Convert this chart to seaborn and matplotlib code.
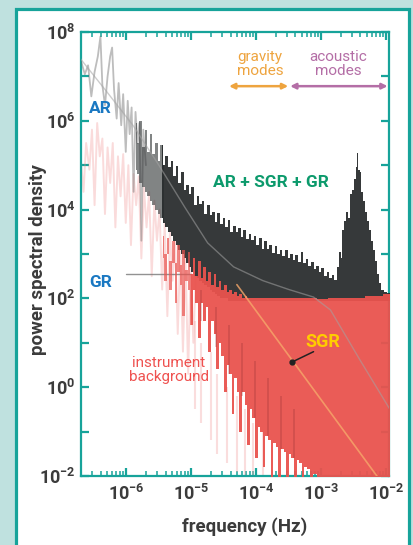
import numpy as np
import pandas as pd
import matplotlib
matplotlib.use("Agg")
import matplotlib.pyplot as plt
from matplotlib.patches import Rectangle
from matplotlib.ticker import FixedLocator, FuncFormatter, NullFormatter
import seaborn as sns

# ---------------------------------------------------------------------------
# Spectrum values, stored as log10(frequency / Hz) and log10(power)
# ---------------------------------------------------------------------------

# Low-frequency part of the combined (AR + SGR + GR) spectrum, drawn as a line
total_low_logf = [-6.70, -6.64, -6.59, -6.54, -6.49, -6.44, -6.40, -6.37, -6.33, -6.29,
                  -6.25, -6.22, -6.19, -6.15, -6.12, -6.08, -6.05, -6.01, -5.98, -5.95,
                  -5.92, -5.89, -5.86, -5.83, -5.80, -5.77, -5.74, -5.70]
total_low_logp = [7.35, 7.05, 7.25, 6.55, 7.10, 7.45, 7.90, 6.80, 6.35, 7.00,
                  7.45, 7.65, 6.70, 6.05, 6.85, 5.90, 6.60, 5.30, 6.45, 5.70,
                  6.30, 4.40, 6.20, 5.50, 5.95, 3.30, 5.80, 5.00]

# Dense combined spectrum: frequency grid, upper edge, lower edge
total_logf = [-5.86, -5.82, -5.78, -5.74, -5.70, -5.66, -5.62, -5.58, -5.54,
              -5.50, -5.46, -5.42, -5.38, -5.34, -5.30, -5.26, -5.22, -5.18, -5.14,
              -5.10, -5.06, -5.02, -4.98, -4.94, -4.90, -4.86, -4.82, -4.78, -4.74,
              -4.70, -4.66, -4.62, -4.58, -4.54, -4.50, -4.46, -4.42, -4.38, -4.34,
              -4.30, -4.26, -4.22, -4.18, -4.14, -4.10, -4.06, -4.02, -3.98, -3.94,
              -3.90, -3.86, -3.82, -3.78, -3.74, -3.70, -3.66, -3.62, -3.58, -3.54,
              -3.50, -3.46, -3.42, -3.38, -3.34, -3.30, -3.26, -3.22, -3.18, -3.14,
              -3.10, -3.06, -3.02, -2.98, -2.94, -2.90, -2.86, -2.82, -2.78, -2.75,
              -2.72, -2.69, -2.66, -2.63, -2.60, -2.57, -2.54, -2.51, -2.48, -2.46,
              -2.44, -2.42, -2.40, -2.37, -2.34, -2.31, -2.28, -2.25, -2.22, -2.19,
              -2.16, -2.13, -2.10, -2.06, -2.02, -1.95]
total_hi_logp = [5.95, 5.50, 6.00, 5.40, 5.80, 5.30, 5.70, 5.25, 5.50,
                 5.10, 5.45, 5.00, 5.20, 4.95, 5.10, 4.75, 4.98, 4.60, 4.85,
                 4.45, 4.55, 4.35, 4.50, 4.10, 4.30, 4.12, 4.20, 3.90, 4.10,
                 3.88, 3.95, 3.72, 3.92, 3.68, 3.80, 3.60, 3.76, 3.50, 3.62,
                 3.50, 3.58, 3.38, 3.55, 3.34, 3.45, 3.32, 3.40, 3.20, 3.36,
                 3.12, 3.30, 3.12, 3.20, 3.02, 3.18, 3.00, 3.08, 2.95, 3.10,
                 2.90, 3.00, 2.86, 2.98, 2.82, 3.05, 2.80, 2.88, 2.72, 2.82,
                 2.66, 2.74, 2.60, 2.68, 2.50, 2.60, 2.45, 2.52, 2.42, 2.70,
                 3.05, 2.90, 3.55, 3.75, 3.95, 3.80, 4.35, 4.45, 4.70, 4.95,
                 5.27, 4.90, 4.85, 4.40, 4.20, 3.95, 3.75, 3.55, 3.30, 3.10,
                 2.85, 2.55, 2.35, 2.20, 2.15, 2.12]
total_lo_logp = [4.90, 4.80, 4.60, 4.50, 4.40, 4.30, 4.20, 4.10, 4.00,
                 3.90, 3.80, 3.70, 3.60, 3.50, 3.40, 3.30, 3.20, 3.10, 3.00,
                 2.90, 2.80, 2.70, 2.60, 2.50, 2.45, 2.40, 2.35, 2.30, 2.25,
                 2.20, 2.15, 2.10, 2.05, 2.00, 2.00, 2.00, 1.95, 1.95, 1.95,
                 1.95, 1.95, 1.95, 1.95, 1.95, 1.95, 1.95, 1.95, 1.95, 1.95,
                 1.95, 1.95, 1.95, 1.95, 1.95, 1.95, 1.95, 1.95, 1.95, 1.95,
                 1.95, 1.95, 1.95, 1.95, 1.95, 1.95, 1.95, 1.95, 1.95, 1.95,
                 1.95, 1.95, 1.95, 1.95, 1.95, 1.95, 1.95, 1.95, 1.95, 1.95,
                 1.95, 1.95, 1.95, 1.95, 1.95, 1.95, 1.95, 1.95, 1.95, 1.95,
                 1.95, 1.95, 1.95, 1.95, 1.95, 1.95, 1.95, 1.95, 1.95, 1.95,
                 1.95, 1.95, 1.95, 1.95, 1.95, 1.95]

# Instrument background: faint low-frequency trace
instr_low_logf = [-6.70, -6.66, -6.62, -6.57, -6.53, -6.49, -6.45, -6.41, -6.37, -6.33,
                  -6.29, -6.25, -6.21, -6.17, -6.13, -6.09, -6.05, -6.01, -5.97, -5.93,
                  -5.89, -5.85, -5.81, -5.77, -5.73, -5.69, -5.65, -5.61, -5.57, -5.53,
                  -5.49, -5.45, -5.41, -5.37, -5.33, -5.29, -5.25, -5.21, -5.17, -5.13,
                  -5.09, -5.05, -5.01, -4.97, -4.93]
instr_low_logp = [5.10, 4.40, 5.50, 4.90, 5.80, 4.10, 5.95, 5.20, 5.60, 3.90,
                  5.40, 4.60, 5.50, 3.60, 5.20, 4.30, 5.25, 3.70, 5.00, 3.20,
                  4.80, 4.10, 4.75, 2.90, 4.50, 3.60, 4.40, 2.50, 4.20, 3.30,
                  4.00, 2.20, 3.70, 1.60, 3.50, 2.40, 3.30, 1.20, 3.10, 0.80,
                  2.90, 0.30, 2.70, 1.00, 2.60]

# Instrument background: dense part, frequency grid, upper and lower edges
instr_logf = [-5.44, -5.40, -5.36, -5.32, -5.28, -5.24, -5.20, -5.16, -5.12, -5.08,
              -5.04, -5.00, -4.96, -4.92, -4.88, -4.84, -4.80, -4.76, -4.72, -4.68,
              -4.64, -4.60, -4.56, -4.52, -4.48, -4.44, -4.40, -4.36, -4.32, -4.28,
              -4.24, -4.20, -4.16, -4.12, -4.08, -4.04, -4.00, -3.96, -3.92, -3.88,
              -3.84, -3.80, -3.76, -3.72, -3.68, -3.64, -3.60, -3.56, -3.52, -3.48,
              -3.44, -3.40, -3.36, -3.32, -3.28, -3.24, -3.20, -3.16, -3.10, -3.04,
              -2.80, -2.50, -2.20, -1.95]
instr_hi_logp = [3.40, 3.00, 3.35, 2.85, 3.30, 2.80, 3.20, 2.75, 3.10, 2.65,
                 3.05, 2.55, 2.90, 2.50, 2.85, 2.45, 2.70, 2.40, 2.60, 2.30,
                 2.55, 2.25, 2.40, 2.20, 2.30, 2.15, 2.20, 2.10, 2.15, 2.05,
                 2.10, 2.02, 2.05, 2.00, 2.02, 2.00, 2.00, 2.00, 2.00, 2.00,
                 2.00, 2.00, 2.00, 2.00, 2.00, 2.00, 2.00, 2.00, 2.00, 2.00,
                 2.00, 2.00, 2.00, 2.00, 2.00, 2.00, 2.00, 2.00, 2.00, 1.98,
                 2.00, 2.02, 2.06, 2.10]
instr_lo_logp = [2.90, 2.40, 3.00, 2.20, 2.80, 1.90, 2.60, 2.30, 1.60, 2.40,
                 2.20, 1.40, 2.20, 1.90, 1.10, 1.90, 1.50, 1.80, 0.80, 1.50,
                 1.20, 0.40, 1.00, 0.70, -0.10, 0.50, 0.30, -0.60, 0.20, -0.10,
                 -1.00, -0.10, -0.40, -1.30, -0.50, -0.70, -1.60, -0.90, -1.00, -1.80,
                 -1.10, -1.20, -2.05, -1.25, -1.35, -2.05, -1.40, -1.45, -2.05, -1.50,
                 -1.60, -2.05, -1.65, -1.70, -2.05, -1.80, -1.85, -2.05, -1.95, -2.05,
                 -2.05, -2.05, -2.05, -2.05]

# Darker streaks inside the instrument background
streak_logf = [-4.85, -4.62, -4.42, -4.22, -4.02, -3.82, -3.62, -3.42]
streak_top = [2.20, 1.80, 1.40, 1.00, 0.60, 0.20, -0.20, -0.50]
streak_bot = [1.50, 0.90, 0.30, -0.20, -0.70, -1.10, -1.40, -1.60]

# Faint streaks below the instrument background
faint_logf = [-4.95, -4.85, -4.70, -4.60, -4.45, -4.30, -4.18, -4.05, -3.90]
faint_top = [1.50, 1.00, 0.80, 0.30, 0.00, -0.20, -0.50, -0.80, -1.00]
faint_bot = [-0.50, -0.80, -1.20, -1.50, -1.70, -1.90, -2.00, -2.05, -2.05]

# Model components
ar_logf = [-6.72, -6.30, -5.90, -5.50, -5.10, -4.75, -4.35, -3.90, -3.50, -3.12,
           -2.86, -2.40, -1.94]
ar_logp = [7.42, 6.65, 5.90, 5.00, 4.05, 3.25, 2.71, 2.40, 2.20, 2.03,
           1.74, 0.60, -0.51]
gr_logf = [-6.00, -5.00]
gr_logp = [2.55, 2.55]
sgr_logf = [-4.30, -2.00]
sgr_logp = [2.31, -2.29]

# Frequency bands of the mode regions
gravity_band = [-4.42, -3.51]
acoustic_band = [-3.48, -1.98]

x_tick_exp = [-6, -5, -4, -3, -2]
y_tick_exp = list(range(-2, 9))

# ---------------------------------------------------------------------------
TEAL = "#17a39a"
INK = "#3b3b3b"
RED = "#e9534e"

sns.set_theme(style="ticks")
plt.rcParams["font.family"] = ["Roboto", "DejaVu Sans"]
plt.rcParams["mathtext.fontset"] = "custom"
plt.rcParams["mathtext.rm"] = "Roboto"
plt.rcParams["mathtext.bf"] = "Roboto:bold"

W, H = 414, 545
fig = plt.figure(figsize=(W / 100, H / 100), dpi=100, facecolor="#bfe1df")
fig.patches.append(Rectangle((16.5 / W, -0.05), (409.5 - 16.5) / W, 1.05 - 8.5 / H,
                             transform=fig.transFigure, facecolor="white",
                             edgecolor=TEAL, lw=2.3, zorder=-10))

ax = fig.add_axes([81 / W, 1 - 476 / H, (389 - 81) / W, (476 - 32) / H])
ax.set_zorder(1)
ax.set_facecolor("white")
ax.set_xscale("log")
ax.set_yscale("log")


def p10(a):
    return np.power(10.0, np.asarray(a, dtype=float))


# faint low-frequency traces
sns.lineplot(x=p10(instr_low_logf), y=p10(instr_low_logp), ax=ax, color="#f08a8a",
             lw=1.4, alpha=0.3, estimator=None, sort=False, zorder=2)
sns.lineplot(x=p10(gr_logf), y=p10(gr_logp), ax=ax, color="#777777", lw=1.0,
             alpha=0.8, estimator=None, sort=False, zorder=2)
sns.lineplot(x=p10(total_low_logf), y=p10(total_low_logp), ax=ax, color="#6d6d6d",
             lw=1.3, alpha=0.45, estimator=None, sort=False, zorder=3)
ax.vlines(p10(faint_logf), p10(faint_bot), p10(faint_top), color="#f2a0a0",
          lw=1.5, alpha=0.35, zorder=2)

# dense combined spectrum: sparser (greyer) below ~4e-6 Hz, solid above
tf = np.asarray(total_logf)
ax.fill_between(p10(tf), p10(total_lo_logp), p10(total_hi_logp), step="mid",
                where=tf <= -5.42, color="#2e3233", lw=0, alpha=0.6, zorder=4)
ax.fill_between(p10(tf), p10(total_lo_logp), p10(total_hi_logp), step="mid",
                where=tf >= -5.46, color="#262a2b", lw=0, alpha=0.93, zorder=4)

# instrument background
inf = np.asarray(instr_logf)
ax.fill_between(p10(inf), p10(instr_lo_logp), p10(instr_hi_logp), step="mid",
                where=inf <= -4.98, color=RED, lw=0, alpha=0.7, zorder=5)
ax.fill_between(p10(inf), p10(instr_lo_logp), p10(instr_hi_logp), step="mid",
                where=inf >= -5.02, color=RED, lw=0, alpha=0.95, zorder=5)
ax.vlines(p10(streak_logf), p10(streak_bot), p10(streak_top), color="#8a2b2e",
          lw=1.1, alpha=0.3, zorder=6)

# model curves
sns.lineplot(x=p10(ar_logf), y=p10(ar_logp), ax=ax, color="#a3a3a3", lw=1.0,
             alpha=0.55, estimator=None, sort=False, zorder=7)
sns.lineplot(x=p10(sgr_logf), y=p10(sgr_logp), ax=ax, color="#f6a86a", lw=1.2,
             alpha=0.8, estimator=None, sort=False, zorder=7)

ax.set_xlim(2.0e-7, 1.1e-2)
ax.set_ylim(1e-2, 1e8)

# axes styling
for s in ax.spines.values():
    s.set_color(TEAL)
    s.set_linewidth(1.6)
    s.set_visible(True)

ax.xaxis.set_major_locator(FixedLocator(p10(x_tick_exp)))
minor = [m * 10.0 ** e for e in range(-7, -1) for m in range(2, 10)]
ax.xaxis.set_minor_locator(FixedLocator(minor))
ax.xaxis.set_minor_formatter(NullFormatter())
ax.yaxis.set_major_locator(FixedLocator(p10(y_tick_exp)))
ax.yaxis.set_minor_locator(FixedLocator([]))


def power_label(v):
    return r"$\mathbf{10^{%d}}$" % int(round(np.log10(v)))


ax.xaxis.set_major_formatter(FuncFormatter(lambda v, p: power_label(v)))
ax.yaxis.set_major_formatter(FuncFormatter(
    lambda v, p: power_label(v) if int(round(np.log10(v))) % 2 == 0 else ""))
ax.tick_params(which="both", direction="in", top=True, right=True, color=TEAL,
               labelcolor=INK, labelsize=13)
ax.tick_params(which="major", length=6, width=1.6)
ax.tick_params(which="minor", length=3.5, width=1.1)
ax.tick_params(axis="x", pad=6)
ax.tick_params(axis="y", pad=4)
ax.set_xlabel("")
ax.set_ylabel("")

fig.text(38 / W, 1 - 260 / H, "power spectral density", rotation=90, ha="center",
         va="center", fontsize=13.5, fontweight="bold", color=INK)
fig.text(245 / W, 1 - 527 / H, "frequency (Hz)", ha="center", va="center",
         fontsize=13.5, fontweight="bold", color=INK)

# annotations
BLUE = "#1a78c2"
ax.text(p10(-6.40), p10(6.27), "AR", color=BLUE, fontsize=12.5, fontweight="bold",
        ha="center", va="center", zorder=10)
ax.text(p10(-6.40), p10(2.35), "GR", color=BLUE, fontsize=12.5, fontweight="bold",
        ha="center", va="center", zorder=10)
ax.text(p10(-3.78), p10(4.60), "AR + SGR + GR", color="#0c9a6c", fontsize=12.5,
        fontweight="bold", ha="center", va="center", zorder=10)
ax.text(p10(-3.94), p10(7.28), "gravity\nmodes", color="#eea43f", fontsize=11,
        ha="center", va="center", linespacing=0.95, zorder=10)
ax.text(p10(-2.74), p10(7.28), "acoustic\nmodes", color="#b46ea6", fontsize=11,
        ha="center", va="center", linespacing=0.95, zorder=10)
ax.annotate("", xy=(p10(gravity_band[0]), p10(6.78)),
            xytext=(p10(gravity_band[1]), p10(6.78)),
            arrowprops=dict(arrowstyle="<|-|>", color="#eea43f", lw=1.8,
                            mutation_scale=8, shrinkA=0, shrinkB=0), zorder=10)
ax.annotate("", xy=(p10(acoustic_band[0]), p10(6.78)),
            xytext=(p10(acoustic_band[1]), p10(6.78)),
            arrowprops=dict(arrowstyle="<|-|>", color="#b46ea6", lw=1.8,
                            mutation_scale=8, shrinkA=0, shrinkB=0), zorder=10)
ax.text(p10(-5.35), p10(0.39), "instrument\nbackground", color="#ef5250", fontsize=11,
        ha="center", va="center", linespacing=0.95, zorder=10)
ax.text(p10(-2.97), p10(1.02), "SGR", color="#ffcc00", fontsize=13,
        fontweight="bold", ha="center", va="center", zorder=10)
ax.plot([p10(-3.446), p10(-3.12)], [p10(0.57), p10(0.80)], color="#222222",
        lw=1.1, zorder=10)
ax.plot([p10(-3.446)], [p10(0.57)], "o", color="#222222", ms=3.5, zorder=10)

fig.savefig("out.png", dpi=100, facecolor=fig.get_facecolor())
